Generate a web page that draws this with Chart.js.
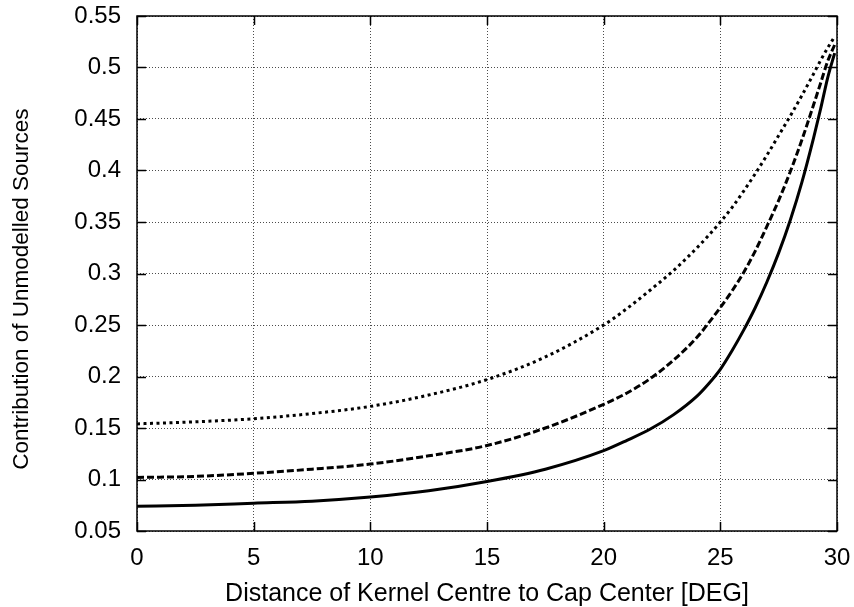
<!DOCTYPE html>
<html>
<head>
<meta charset="utf-8">
<script src="https://cdn.jsdelivr.net/npm/chart.js@4.4.1/dist/chart.umd.min.js"></script>
<style>
  body { margin: 0; background: #fff; }
  #wrap { width: 854px; height: 607px; }
</style>
</head>
<body>
<div id="wrap"><canvas id="myChart" width="854" height="607"></canvas></div>
<script>
// distance of kernel centre to cap center [deg]
var xs = [0, 2.5, 5, 7.5, 10, 12.5, 15, 17.5, 20, 21, 22, 23, 24, 24.5, 25, 25.5, 26, 26.5, 27, 27.5, 28, 28.5, 29, 29.3, 29.6, 29.9];
var solidVals  = [0.074, 0.075, 0.077, 0.079, 0.083, 0.089, 0.098, 0.110, 0.128, 0.138, 0.149, 0.163, 0.181, 0.193, 0.207, 0.225, 0.245, 0.267, 0.292, 0.320, 0.352, 0.389, 0.432, 0.460, 0.490, 0.514];
var dashedVals = [0.102, 0.103, 0.106, 0.110, 0.115, 0.123, 0.133, 0.150, 0.173, 0.184, 0.198, 0.216, 0.238, 0.252, 0.267, 0.283, 0.301, 0.322, 0.346, 0.371, 0.399, 0.430, 0.464, 0.485, 0.506, 0.522];
var dottedVals = [0.154, 0.156, 0.159, 0.164, 0.171, 0.182, 0.197, 0.219, 0.250, 0.266, 0.284, 0.303, 0.325, 0.337, 0.350, 0.364, 0.380, 0.397, 0.415, 0.434, 0.453, 0.473, 0.494, 0.507, 0.519, 0.530];

var xTicks = [0, 5, 10, 15, 20, 25, 30];
var yTicks = [0.05, 0.1, 0.15, 0.2, 0.25, 0.3, 0.35, 0.4, 0.45, 0.5, 0.55];

function pts(vals) {
    return xs.map(function (x, i) { return { x: x, y: vals[i] }; });
}

var fam = '"Liberation Sans", Arial, Helvetica, sans-serif';
var tickFont = { family: fam, size: 24 };

// gnuplot-like frame with inward ticks on all four sides
var frame = {
    id: 'frame',
    afterDraw: function (chart) {
        var c = chart.ctx, a = chart.chartArea;
        var sx = chart.scales.x, sy = chart.scales.y;
        var len = 9;
        c.save();
        c.strokeStyle = '#000';
        c.lineWidth = 1.5;
        c.setLineDash([]);
        c.beginPath();
        sx.ticks.forEach(function (t) {
            var px = Math.round(sx.getPixelForValue(t.value)) + 0.5;
            c.moveTo(px, a.bottom); c.lineTo(px, a.bottom - len);
            c.moveTo(px, a.top); c.lineTo(px, a.top + len);
        });
        sy.ticks.forEach(function (t) {
            var py = Math.round(sy.getPixelForValue(t.value)) + 0.5;
            c.moveTo(a.left, py); c.lineTo(a.left + len, py);
            c.moveTo(a.right, py); c.lineTo(a.right - len, py);
        });
        c.stroke();
        c.strokeRect(a.left, a.top, a.right - a.left, a.bottom - a.top);
        c.restore();
    }
};

var ctx = document.getElementById('myChart').getContext('2d');
var myChart = new Chart(ctx, {
    type: 'line',
    data: {
        datasets: [{
            label: 'solid',
            data: pts(solidVals),
            borderColor: '#000',
            borderWidth: 3
        }, {
            label: 'dashed',
            data: pts(dashedVals),
            borderColor: '#000',
            borderWidth: 3,
            borderDash: [7, 3]
        }, {
            label: 'dotted',
            data: pts(dottedVals),
            borderColor: '#000',
            borderWidth: 3,
            borderDash: [3, 3.5]
        }]
    },
    options: {
        responsive: false,
        animation: false,
        devicePixelRatio: 1,
        layout: { padding: { top: 16, right: 17, left: 0, bottom: 0 } },
        elements: {
            point: { radius: 0 },
            line: { cubicInterpolationMode: 'monotone', borderCapStyle: 'butt', fill: false }
        },
        plugins: { legend: { display: false }, tooltip: { enabled: false } },
        scales: {
            x: {
                type: 'linear',
                min: 0,
                max: 30,
                afterBuildTicks: function (s) { s.ticks = xTicks.map(function (v) { return { value: v }; }); },
                afterFit: function (s) { s.height = 76; s.paddingLeft = 0; s.paddingRight = 0; },
                grid: { color: 'rgba(0,0,0,0.7)', lineWidth: 1, drawTicks: false },
                border: { display: false, dash: [1, 2] },
                ticks: { color: '#000', font: tickFont, padding: 13, maxRotation: 0, callback: function (v) { return String(v); } },
                title: {
                    display: true,
                    text: 'Distance of Kernel Centre to Cap Center [DEG]',
                    color: '#000',
                    font: { family: fam, size: 25, lineHeight: 1 },
                    padding: { top: 0, bottom: 0 }
                }
            },
            y: {
                type: 'linear',
                min: 0.05,
                max: 0.55,
                afterBuildTicks: function (s) { s.ticks = yTicks.map(function (v) { return { value: v }; }); },
                afterFit: function (s) { s.width = 137; s.paddingTop = 0; s.paddingBottom = 0; },
                grid: { color: 'rgba(0,0,0,0.7)', lineWidth: 1, drawTicks: false },
                border: { display: false, dash: [1, 2] },
                ticks: { color: '#000', font: tickFont, padding: 16, callback: function (v) { return String(v); } },
                title: {
                    display: true,
                    // trailing spaces push the label a little down, as in the original
                    text: 'Contribution of Unmodelled Sources     ',
                    color: '#000',
                    font: { family: fam, size: 22.5 },
                    padding: { top: 8, bottom: 0 }
                }
            }
        }
    },
    plugins: [frame]
});
</script>
</body>
</html>
